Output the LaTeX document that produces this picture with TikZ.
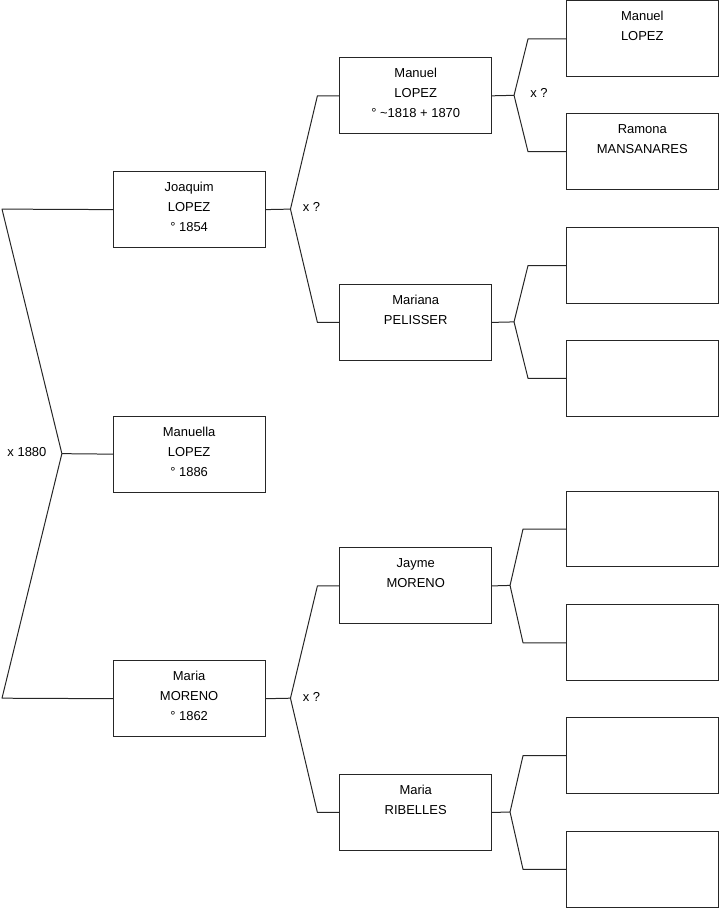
\documentclass[tikz,border=0pt]{standalone}
\usepackage{fontspec}
\setmainfont{Liberation Sans}
\usetikzlibrary{positioning}
\newcommand{\pers}[1]{\parbox[t][76pt][t]{152pt}{\centering\rule{0pt}{20pt}#1}}

\begin{document}
\begin{tikzpicture}[
    x=1pt, y=-1pt,
    font=\fontsize{13}{20}\selectfont,
    pbox/.style={draw=black!85, line width=1pt, inner sep=0pt, anchor=north west},
    link/.style={draw=black!85, line width=1pt, line join=round},
    mar/.style={inner sep=1pt}
  ]
    \useasboundingbox (0,-0.5) rectangle (719.8,909.2);
    % generation 1
    \node[pbox] (joaquim) at (113,171) {\pers{Joaquim\\LOPEZ\\° 1854}};
    \node[pbox] (manuella) at (113,416) {\pers{Manuella\\LOPEZ\\° 1886}};
    \node[pbox] (mariaM) at (113,661) {\pers{Maria\\MORENO\\° 1862}};
    % generation 2
    \node[pbox] (manuel) at (340,57) {\pers{Manuel\\LOPEZ\\° \textasciitilde1818 + 1870}};
    \node[pbox] (mariana) at (340,284) {\pers{Mariana\\PELISSER}};
    \node[pbox] (jayme) at (340,548) {\pers{Jayme\\MORENO}};
    \node[pbox] (ribelles) at (340,775) {\pers{Maria\\RIBELLES}};
    % generation 3
    \node[pbox] (manuelF) at (567,0) {\pers{Manuel\\LOPEZ}};
    \node[pbox] (ramona) at (567,113) {\pers{Ramona\\MANSANARES}};
    \node[pbox] (anc3) at (567,227) {\pers{}};
    \node[pbox] (anc4) at (567,340) {\pers{}};
    \node[pbox] (anc5) at (567,491) {\pers{}};
    \node[pbox] (anc6) at (567,605) {\pers{}};
    \node[pbox] (anc7) at (567,718) {\pers{}};
    \node[pbox] (anc8) at (567,832) {\pers{}};
    % branch points
    \coordinate (r1) at (2,209);
    \coordinate (r2) at (2,699);
    \coordinate (b0) at (62,454);
    \coordinate (b1) at (291,209);
    \coordinate (b2) at (291,699);
    \coordinate (b3) at (515,95);
    \coordinate (b4) at (515,322);
    \coordinate (b5) at (511,586);
    \coordinate (b6) at (511,813);
    % links
    \draw[link] (joaquim.west) -- (r1) -- (b0) -- (r2) -- (mariaM.west);
    \draw[link] (b0) -- (manuella.west);
    \draw[link] (joaquim.east) -- (b1);
    \draw[link] (manuel.west) -- ([xshift=-22pt]manuel.west) -- (b1) -- ([xshift=-22pt]mariana.west) -- (mariana.west);
    \draw[link] (mariaM.east) -- (b2);
    \draw[link] (jayme.west) -- ([xshift=-22pt]jayme.west) -- (b2) -- ([xshift=-22pt]ribelles.west) -- (ribelles.west);
    \draw[link] (manuel.east) -- (b3);
    \draw[link] (manuelF.west) -- ([xshift=-38pt]manuelF.west) -- (b3) -- ([xshift=-38pt]ramona.west) -- (ramona.west);
    \draw[link] (mariana.east) -- (b4);
    \draw[link] (anc3.west) -- ([xshift=-38pt]anc3.west) -- (b4) -- ([xshift=-38pt]anc4.west) -- (anc4.west);
    \draw[link] (jayme.east) -- (b5);
    \draw[link] (anc5.west) -- ([xshift=-43pt]anc5.west) -- (b5) -- ([xshift=-43pt]anc6.west) -- (anc6.west);
    \draw[link] (ribelles.east) -- (b6);
    \draw[link] (anc7.west) -- ([xshift=-43pt]anc7.west) -- (b6) -- ([xshift=-43pt]anc8.west) -- (anc8.west);
    % marriages
    \node[mar] (m0) at (27,452) {x 1880};
    \node[mar] (m1) at (312,207) {x ?};
    \node[mar] (m2) at (540,93) {x ?};
    \node[mar] (m3) at (312,698) {x ?};
  \end{tikzpicture}
\end{document}
